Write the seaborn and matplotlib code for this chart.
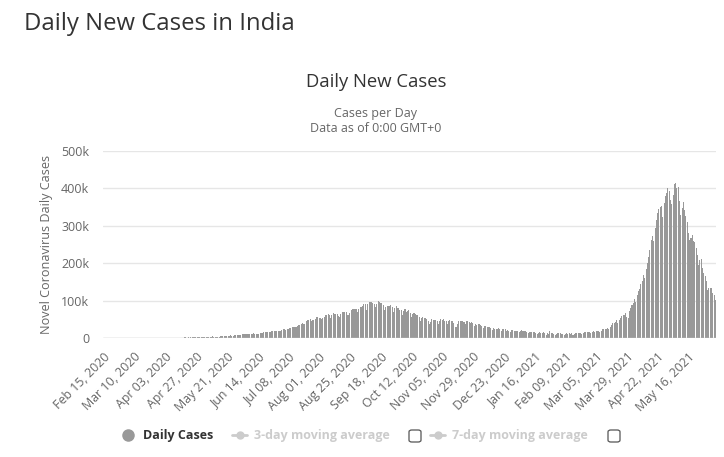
import numpy as np
import pandas as pd
import matplotlib
matplotlib.use("Agg")
import matplotlib.pyplot as plt
from matplotlib.lines import Line2D
from matplotlib.patches import FancyBboxPatch
import seaborn as sns

# dados diarios (casos novos por dia), de 15/02/2020 a 06/06/2021
start_date = "2020-02-15"
feb_2020 = [0] * 15
mar_2020 = [0, 2, 1, 22, 2, 1, 3, 5, 9, 15, 8, 12, 8, 19, 26, 5, 28, 14, 22, 56,
            91, 73, 103, 67, 86, 82, 150, 173, 164, 118, 251]
apr_2020 = [411, 335, 553, 581, 478, 512, 565, 594, 612, 789, 906, 758, 1248, 1034, 883,
            1061, 922, 1371, 1580, 1239, 1537, 1292, 1667, 1408, 1835, 1607, 1561, 1873, 1738, 1983]
may_2020 = [2396, 2564, 2952, 3656, 2971, 3602, 3344, 3339, 3175, 4311, 3592, 3562, 3726, 3967,
            3970, 4987, 5050, 4630, 6147, 5553, 6198, 6568, 6629, 7111, 6414, 6624, 7246, 7254,
            8138, 7761, 8392]
jun_2020 = [8171, 9633, 9851, 9889, 9887, 9971, 9983, 9987, 10956, 11458, 12375, 11929, 11502,
            10667, 11390, 12881, 13586, 14516, 15413, 14933, 15968, 14821, 16922, 17296, 18552,
            19906, 18653, 19459, 18522, 18870]
jul_2020 = [19148, 19428, 20903, 22771, 24850, 22252, 22752, 24879, 26506, 27114, 28637, 28701,
            28498, 29429, 32695, 34956, 34884, 37411, 40425, 37148, 37724, 45720, 49310, 48916,
            49931, 46484, 47703, 48513, 52123, 55078, 57118]
aug_2020 = [54735, 52972, 52050, 52509, 56282, 62538, 61537, 64399, 62064, 53601, 60963, 66999,
            64553, 65002, 63490, 57981, 55079, 64531, 69652, 68898, 69878, 70488, 61408, 60975,
            67151, 75760, 77266, 76472, 78761, 78512, 69921]
sep_2020 = [78357, 83883, 83341, 86432, 90632, 90802, 75809, 89706, 95735, 96551, 97570, 94372,
            92071, 81911, 90123, 97894, 96424, 93337, 92605, 86961, 75083, 83347, 86508, 85362,
            86052, 88600, 82170, 70589, 80472, 86821]
oct_2020 = [81484, 79476, 75829, 74442, 61267, 72049, 78524, 70496, 73272, 74383, 66732, 55342,
            63509, 67708, 63371, 62212, 61871, 55722, 46790, 54044, 55839, 53370, 54366, 50129,
            45148, 36469, 43893, 49881, 48648, 48268, 46963]
nov_2020 = [45231, 38310, 46253, 50210, 47638, 50357, 45674, 45903, 38073, 44281, 47905, 44879,
            44684, 41100, 30548, 29164, 38617, 45576, 45882, 46232, 45209, 44059, 37975, 44376,
            44489, 43082, 41322, 41810, 38772, 31118]
dec_2020 = [36604, 35551, 36595, 36652, 36011, 32981, 26567, 32080, 31521, 29398, 30006, 30254,
            27071, 22065, 26382, 24010, 22890, 25153, 26624, 24337, 19556, 23950, 24712, 23068,
            18732, 22272, 20021, 16432, 20550, 21822, 20036]
jan_2021 = [19079, 18177, 18088, 16504, 18088, 20346, 18139, 18222, 18645, 16311, 12584, 15968,
            16946, 15590, 15158, 15144, 13788, 10064, 13823, 15223, 14545, 14256, 14849, 13203,
            9102, 12689, 11666, 18855, 13083, 13052, 11427]
feb_2021 = [8635, 11039, 12899, 12408, 12190, 11713, 11831, 9110, 11067, 12923, 11610, 12143,
            11666, 12194, 9121, 11610, 12881, 13193, 13993, 13993, 14264, 10584, 13742, 16738,
            16577, 16488, 16752, 15510]
mar_2021 = [12286, 14989, 17407, 16838, 18327, 18711, 18599, 15388, 17921, 22854, 23285, 24882,
            25320, 26291, 24492, 28903, 35871, 39726, 40953, 43846, 46951, 40715, 47262, 53476,
            59118, 62258, 62714, 68020, 56211, 53480, 72330]
apr_2021 = [81466, 89129, 93249, 103558, 96982, 115736, 126789, 131968, 145384, 152879, 168912,
            161736, 184372, 200739, 217353, 234692, 261500, 273810, 259170, 295041, 314835,
            332921, 345147, 349313, 352991, 323023, 360927, 379308, 386555, 401993]
may_2021 = [392562, 368060, 357229, 382315, 412262, 414188, 401078, 403405, 366494, 329517,
            348421, 362727, 343144, 326098, 311170, 281386, 263045, 267334, 276070, 259551,
            257299, 240842, 222315, 195815, 208921, 211298, 186364, 173790, 165553, 152734, 127510]
jun_2021 = [132788, 134154, 132364, 120529, 114460, 100636]

x_tick_labels = ["Feb 15, 2020", "Mar 10, 2020", "Apr 03, 2020", "Apr 27, 2020", "May 21, 2020",
                 "Jun 14, 2020", "Jul 08, 2020", "Aug 01, 2020", "Aug 25, 2020", "Sep 18, 2020",
                 "Oct 12, 2020", "Nov 05, 2020", "Nov 29, 2020", "Dec 23, 2020", "Jan 16, 2021",
                 "Feb 09, 2021", "Mar 05, 2021", "Mar 29, 2021", "Apr 22, 2021", "May 16, 2021"]
y_ticks = [0, 100000, 200000, 300000, 400000, 500000]
y_tick_labels = ["0", "100k", "200k", "300k", "400k", "500k"]

casos = np.array(feb_2020 + mar_2020 + apr_2020 + may_2020 + jun_2020 + jul_2020 + aug_2020
                 + sep_2020 + oct_2020 + nov_2020 + dec_2020 + jan_2021 + feb_2021 + mar_2021
                 + apr_2021 + may_2021 + jun_2021)
datas = pd.date_range(start_date, periods=len(casos), freq="D")
df = pd.DataFrame({"dia": np.arange(len(casos)), "casos": casos})

sns.set_style("white")
plt.rcParams["font.family"] = ["Open Sans", "DejaVu Sans"]

fig = plt.figure(figsize=(7.24, 4.57), dpi=100)
ax = fig.add_axes([103 / 724, 1 - 338 / 457, 613 / 724, 187 / 457])

sns.barplot(data=df, x="dia", y="casos", color="#999999", saturation=1,
            width=0.8, linewidth=0, ax=ax, zorder=3)

ax.set_xlim(-0.5, len(casos) - 0.5)
ax.set_ylim(0, 500000)
for s in ax.spines.values():
    s.set_visible(False)

# grade horizontal
ax.set_yticks(y_ticks)
ax.set_yticklabels(y_tick_labels, color="#666666", fontsize=9)
ax.yaxis.grid(True, color="#e6e6e6", linewidth=1, zorder=0)
ax.tick_params(axis="y", length=0, pad=10)
ax.axhline(0, color="#d0d0d0", linewidth=1, zorder=4)

# rotulos de data a cada 24 dias
rotulos = datas.strftime("%b %d, %Y")
pos = [int(np.where(rotulos == lab)[0][0]) for lab in x_tick_labels]
ax.set_xticks(pos)
ax.set_xticklabels(x_tick_labels, rotation=45, ha="right", rotation_mode="anchor",
                   color="#666666", fontsize=8.9)
ax.tick_params(axis="x", length=0, pad=9)
ax.set_xlabel("")
ax.set_ylabel("Novel Coronavirus Daily Cases", color="#666666", fontsize=9.1, labelpad=6)

# titulos
fig.text(24 / 724, 1 - 24 / 457, "Daily New Cases in India", fontsize=17.2,
         color="#333333", va="center", ha="left")
fig.text(376 / 724, 1 - 82 / 457, "Daily New Cases", fontsize=13.3, color="#333333",
         va="center", ha="center")
fig.text(376 / 724, 1 - 113 / 457, "Cases per Day", fontsize=9, color="#666666",
         va="center", ha="center")
fig.text(376 / 724, 1 - 128 / 457, "Data as of 0:00 GMT+0", fontsize=9, color="#666666",
         va="center", ha="center")

# legenda
ly = 1 - 435 / 457
fig.add_artist(Line2D([128 / 724], [ly], marker="o", markersize=8, color="#999999",
                      linestyle="none", transform=fig.transFigure))
fig.text(143 / 724, ly, "Daily Cases", fontsize=9, fontweight="bold", color="#333333",
         va="center", ha="left")
for x0, texto, xbox in [(232, "3-day moving average", 409), (430, "7-day moving average", 608)]:
    fig.add_artist(Line2D([x0 / 724, (x0 + 15) / 724], [ly, ly], color="#cccccc",
                          linewidth=2, transform=fig.transFigure))
    fig.add_artist(Line2D([(x0 + 7.5) / 724], [ly], marker="o", markersize=5, color="#cccccc",
                          linestyle="none", transform=fig.transFigure))
    fig.text((x0 + 22) / 724, ly, texto, fontsize=9, fontweight="bold", color="#cccccc",
             va="center", ha="left")
    fig.add_artist(FancyBboxPatch((xbox / 724, 1 - 442 / 457), 12 / 724, 12 / 457,
                                  boxstyle="round,pad=0,rounding_size=0.004",
                                  facecolor="white", edgecolor="#555555", linewidth=0.9,
                                  transform=fig.transFigure))

fig.savefig("out.png", dpi=100)
